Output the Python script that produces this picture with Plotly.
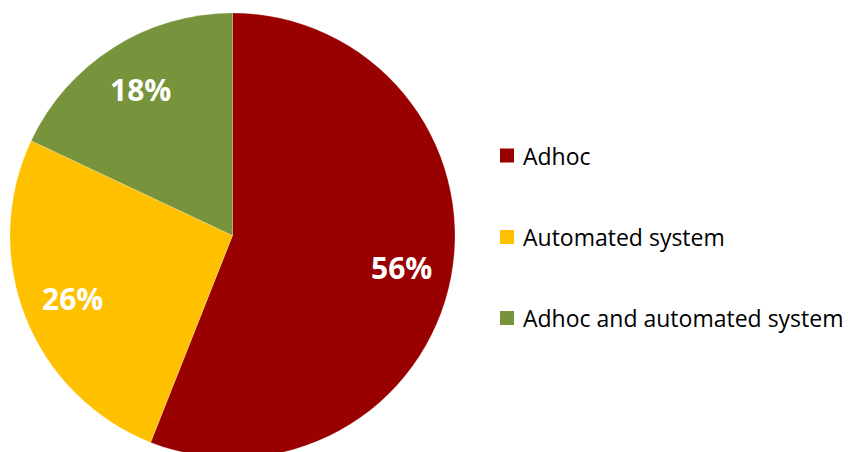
import math
import plotly.graph_objects as go

# Survey split of how the work is handled
labels = ["Adhoc", "Automated system", "Adhoc and automated system"]
values = [56, 26, 18]
colors = ["#990000", "#FFC000", "#77933C"]

W, H = 848, 458
M_TOP = 13
PLOT_H = H - M_TOP
CX_PX = 232.5          # pie centre, px from left
R_PX = PLOT_H / 2      # pie radius follows the plot height

fig = go.Figure(
    go.Pie(
        labels=labels,
        values=values,
        marker=dict(colors=colors, line=dict(color="rgba(255,255,255,0.35)", width=0.6)),
        sort=False,
        direction="clockwise",
        rotation=0,
        textinfo="none",
        hoverinfo="label+percent",
        showlegend=False,
        domain=dict(x=[0, 2 * CX_PX / W], y=[0, 1]),
    )
)

# Percentage labels placed along each slice's bisector
total = sum(values)
start = 0.0
for lab, v in zip(labels, values):
    frac = v / total
    mid = (start + frac / 2) * 2 * math.pi
    d = 0.775 * R_PX
    px = CX_PX + d * math.sin(mid)
    py = d * math.cos(mid)
    fig.add_annotation(
        x=px / W, y=0.5 + py / PLOT_H, xref="paper", yref="paper",
        text=f"<b>{round(frac * 100)}%</b>", showarrow=False,
        font=dict(family="Open Sans", size=30, color="white"),
        xanchor="center", yanchor="middle",
    )
    start += frac

# Legend drawn as swatches with text, spaced evenly down the right side
leg_x0 = 500
leg_rows = [155.5, 237, 318]
sw = 14
for lab, col, yc in zip(labels, colors, leg_rows):
    y_paper = 1 - (yc - M_TOP) / PLOT_H
    fig.add_shape(
        type="rect", xref="paper", yref="paper",
        x0=leg_x0 / W, x1=(leg_x0 + sw) / W,
        y0=y_paper - (sw / 2) / PLOT_H, y1=y_paper + (sw / 2) / PLOT_H,
        fillcolor=col, line=dict(width=0),
    )
    fig.add_annotation(
        x=(leg_x0 + sw + 7) / W, y=y_paper, xref="paper", yref="paper",
        text=lab, showarrow=False, xanchor="left", yanchor="middle",
        font=dict(family="Open Sans", size=23, color="#000000"),
    )

fig.update_layout(
    width=W, height=H,
    margin=dict(l=0, r=0, t=M_TOP, b=0, pad=0),
    paper_bgcolor="white", plot_bgcolor="white",
)

fig.write_html(
    "out.html",
    config={"displayModeBar": False},
    post_script="document.documentElement.style.overflow='hidden';document.body.style.overflow='hidden';",
)
